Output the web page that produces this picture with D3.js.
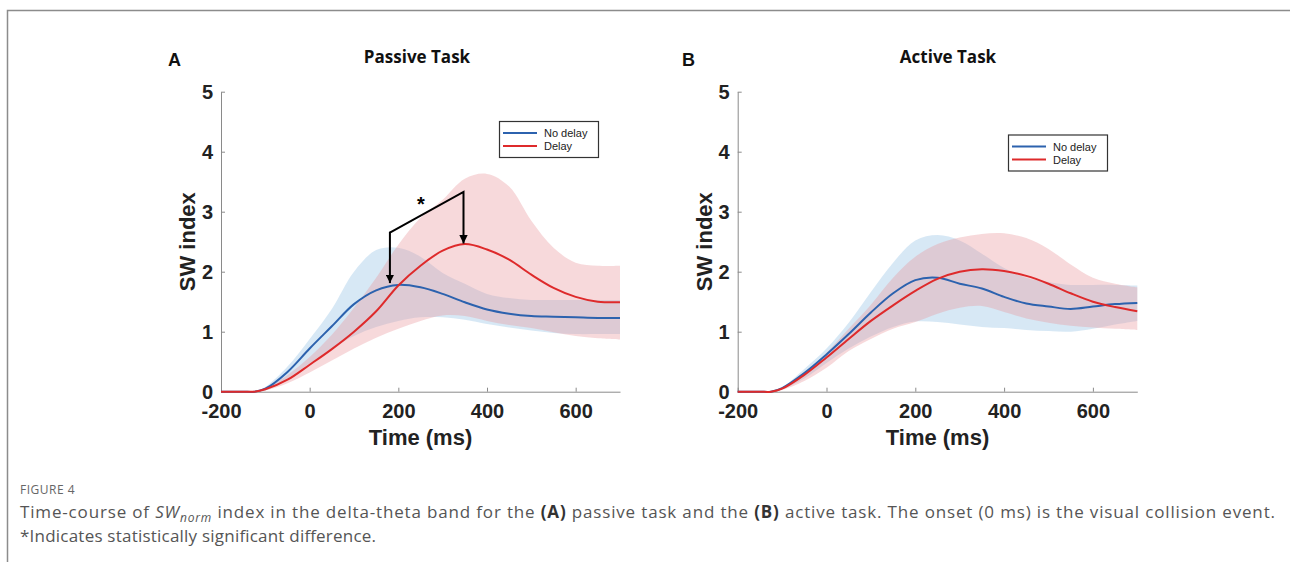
<!DOCTYPE html>
<html>
<head>
<meta charset="utf-8">
<script src="https://cdn.jsdelivr.net/npm/d3@7"></script>
<style>
  body { margin: 0; background: #fff; }
  svg { display: block; }
  .tick text { font-family: "Liberation Sans", Arial, sans-serif; font-weight: bold; font-size: 20px; fill: #222; }
  .axis path, .axis line { stroke: #8a8a8a; stroke-width: 1; }
</style>
</head>
<body>
<div id="chart"></div>
<script>
// time points (ms)
const times = [-200, -150, -125, -100, -50, 0, 50, 100, 150, 200, 250, 300, 350, 400, 450, 500, 550, 600, 650, 700];

// passive task
const passiveNoDelay   = [0, 0, 0, 0.05, 0.33, 0.72, 1.09, 1.46, 1.69, 1.78, 1.74, 1.63, 1.49, 1.37, 1.30, 1.26, 1.25, 1.24, 1.23, 1.23];
const passiveNoDelayHi = [0, 0, 0, 0.08, 0.42, 0.88, 1.38, 2.00, 2.36, 2.40, 2.25, 1.98, 1.80, 1.63, 1.56, 1.53, 1.53, 1.53, 1.53, 1.53];
const passiveNoDelayLo = [0, 0, 0, 0.02, 0.22, 0.47, 0.72, 0.93, 1.08, 1.18, 1.24, 1.24, 1.20, 1.13, 1.07, 1.02, 0.98, 0.96, 0.96, 0.96];
const passiveDelay     = [0, 0, 0, 0.04, 0.20, 0.45, 0.71, 1.00, 1.34, 1.77, 2.10, 2.35, 2.46, 2.37, 2.20, 1.95, 1.73, 1.58, 1.50, 1.49];
const passiveDelayHi   = [0, 0, 0, 0.06, 0.28, 0.58, 0.95, 1.40, 1.90, 2.45, 2.90, 3.20, 3.55, 3.63, 3.42, 2.85, 2.40, 2.15, 2.10, 2.10];
const passiveDelayLo   = [0, 0, 0, 0.02, 0.14, 0.32, 0.52, 0.72, 0.90, 1.05, 1.18, 1.27, 1.26, 1.18, 1.11, 1.06, 0.99, 0.93, 0.89, 0.87];

// active task
const activeNoDelay   = [0, 0, 0, 0.06, 0.31, 0.62, 0.96, 1.32, 1.64, 1.86, 1.90, 1.80, 1.72, 1.58, 1.47, 1.42, 1.38, 1.42, 1.46, 1.48];
const activeNoDelayHi = [0, 0, 0, 0.07, 0.38, 0.72, 1.15, 1.66, 2.15, 2.52, 2.61, 2.52, 2.30, 2.06, 1.90, 1.83, 1.78, 1.78, 1.78, 1.77];
const activeNoDelayLo = [0, 0, 0, 0.04, 0.22, 0.48, 0.72, 0.92, 1.08, 1.17, 1.16, 1.12, 1.08, 1.06, 1.03, 1.01, 1.00, 1.05, 1.12, 1.18];
const activeDelay     = [0, 0, 0, 0.05, 0.28, 0.57, 0.88, 1.18, 1.44, 1.68, 1.88, 2.00, 2.04, 2.01, 1.93, 1.80, 1.64, 1.50, 1.41, 1.34];
const activeDelayHi   = [0, 0, 0, 0.06, 0.30, 0.65, 1.05, 1.45, 1.90, 2.25, 2.46, 2.57, 2.63, 2.64, 2.56, 2.38, 2.12, 1.90, 1.80, 1.74];
const activeDelayLo   = [0, 0, 0, 0.03, 0.18, 0.40, 0.68, 0.88, 1.05, 1.16, 1.30, 1.40, 1.43, 1.33, 1.22, 1.15, 1.10, 1.07, 1.05, 1.03];

const xTicks = [-200, 0, 200, 400, 600];
const yTicks = [0, 1, 2, 3, 4, 5];
const seriesNames = ["No delay", "Delay"];

// significance bracket: [time, top value, arrow tip value]
const bracketLeft = [181, 2.65, 1.81];
const bracketRight = [347, 3.33, 2.47];
const starPos = [251, 3.16];

const width = 1290, height = 562;
const blue = "#2c62ae", red = "#de2a2b";
const curve = d3.curveCatmullRom.alpha(0.5);

const svg = d3.select("#chart").append("svg")
    .attr("width", width)
    .attr("height", height);

// page frame
svg.append("path")
    .attr("d", "M7.5,562 V10.5 H1290")
    .attr("fill", "none")
    .attr("stroke", "#8c8c8c")
    .attr("stroke-width", 1.5);

svg.append("defs").append("marker")
    .attr("id", "arrow")
    .attr("viewBox", "0 0 10 10")
    .attr("refX", 10).attr("refY", 5)
    .attr("markerWidth", 4.2).attr("markerHeight", 4.2)
    .attr("markerUnits", "strokeWidth")
    .attr("orient", "auto")
    .append("path")
    .attr("d", "M0,0 L10,5 L0,10 Z")
    .attr("fill", "#000");

function drawPanel(p) {
    const x = d3.scaleLinear().domain([-200, 700]).range([p.left, p.right]);
    const y = d3.scaleLinear().domain([0, 5]).range([391.7, 91.7]);
    const g = svg.append("g");

    const rows = times.map((t, i) => ({
        t: t,
        nd: p.nd[i], ndHi: p.ndHi[i], ndLo: p.ndLo[i],
        d: p.d[i], dHi: p.dHi[i], dLo: p.dLo[i]
    }));

    const area = (hi, lo) => d3.area()
        .x(d => x(d.t)).y0(d => y(Math.max(0, d[lo]))).y1(d => y(d[hi]))
        .curve(curve);
    const line = key => d3.line()
        .x(d => x(d.t)).y(d => y(d[key]))
        .curve(curve);

    g.append("path").datum(rows)
        .attr("d", area("ndHi", "ndLo"))
        .attr("fill", "rgb(160,200,232)")
        .attr("fill-opacity", 0.42);
    g.append("path").datum(rows)
        .attr("d", area("dHi", "dLo"))
        .attr("fill", "rgb(232,150,155)")
        .attr("fill-opacity", 0.36);

    // axes
    g.append("g").attr("class", "axis")
        .attr("transform", "translate(0,391.7)")
        .call(d3.axisBottom(x).tickValues(xTicks).tickFormat(d => String(d))
            .tickSizeInner(-4).tickSizeOuter(0).tickPadding(12));
    g.append("g").attr("class", "axis")
        .attr("transform", `translate(${p.left},0)`)
        .call(d3.axisLeft(y).tickValues(yTicks).tickFormat(d => String(d))
            .tickSizeInner(-4).tickSizeOuter(0).tickPadding(8));

    g.append("path").datum(rows)
        .attr("d", line("nd"))
        .attr("fill", "none").attr("stroke", blue).attr("stroke-width", 2);
    g.append("path").datum(rows)
        .attr("d", line("d"))
        .attr("fill", "none").attr("stroke", red).attr("stroke-width", 2);

    // axis labels
    g.append("text")
        .attr("x", (p.left + p.right) / 2).attr("y", 445)
        .attr("text-anchor", "middle")
        .style("font-family", "'Liberation Sans', Arial, sans-serif")
        .style("font-weight", "bold").style("font-size", "22px").style("fill", "#222")
        .text("Time (ms)");
    g.append("text")
        .attr("transform", `translate(${p.left - 26},241.7) rotate(-90)`)
        .attr("text-anchor", "middle")
        .style("font-family", "'Liberation Sans', Arial, sans-serif")
        .style("font-weight", "bold").style("font-size", "22px").style("fill", "#222")
        .text("SW index");

    // titles
    g.append("text")
        .attr("x", p.titleX).attr("y", 63)
        .attr("text-anchor", "middle")
        .style("font-family", "'Open Sans', sans-serif")
        .style("font-weight", "bold").style("font-size", "17px").style("fill", "#111")
        .text(p.title);
    g.append("text")
        .attr("x", p.letterX).attr("y", 66)
        .style("font-family", "'Liberation Sans', Arial, sans-serif")
        .style("font-weight", "bold").style("font-size", "18px").style("fill", "#111")
        .text(p.letter);

    // legend
    const lg = g.append("g").attr("transform", `translate(${p.legX},${p.legY})`);
    lg.append("rect")
        .attr("x", 0.5).attr("y", 0.5).attr("width", 99).attr("height", 36)
        .attr("fill", "#fff").attr("stroke", "#333").attr("stroke-width", 1.2);
    seriesNames.forEach((name, i) => {
        const ly = 12 + i * 13;
        lg.append("line")
            .attr("x1", 4).attr("x2", 38).attr("y1", ly).attr("y2", ly)
            .attr("stroke", i === 0 ? blue : red).attr("stroke-width", 1.8);
        lg.append("text")
            .attr("x", 45).attr("y", ly + 4)
            .style("font-family", "'Liberation Sans', Arial, sans-serif")
            .style("font-size", "11px").style("fill", "#222")
            .text(name);
    });

    return { x, y, g };
}

const A = drawPanel({
    left: 221, right: 620, title: "Passive Task", titleX: 417, letter: "A", letterX: 168,
    legX: 499, legY: 121,
    nd: passiveNoDelay, ndHi: passiveNoDelayHi, ndLo: passiveNoDelayLo,
    d: passiveDelay, dHi: passiveDelayHi, dLo: passiveDelayLo
});

drawPanel({
    left: 737.7, right: 1137.3, title: "Active Task", titleX: 948, letter: "B", letterX: 682,
    legX: 1008, legY: 134.5,
    nd: activeNoDelay, ndHi: activeNoDelayHi, ndLo: activeNoDelayLo,
    d: activeDelay, dHi: activeDelayHi, dLo: activeDelayLo
});

// significance annotation on panel A
const bx1 = A.x(bracketLeft[0]), bx2 = A.x(bracketRight[0]);
A.g.append("path")
    .attr("d", `M${bx1},${A.y(bracketLeft[1])} L${bx2},${A.y(bracketRight[1])} L${bx2},${A.y(bracketRight[2])}`)
    .attr("fill", "none").attr("stroke", "#000").attr("stroke-width", 2)
    .attr("marker-end", "url(#arrow)");
A.g.append("path")
    .attr("d", `M${bx1},${A.y(bracketLeft[1]) - 1} L${bx1},${A.y(bracketLeft[2])}`)
    .attr("fill", "none").attr("stroke", "#000").attr("stroke-width", 2)
    .attr("marker-end", "url(#arrow)");
A.g.append("text")
    .attr("x", A.x(starPos[0])).attr("y", A.y(starPos[1]) + 9)
    .attr("text-anchor", "middle")
    .style("font-family", "'Liberation Sans', Arial, sans-serif")
    .style("font-weight", "bold").style("font-size", "20px")
    .text("*");

// caption
const cap = svg.append("g").style("font-family", "'Open Sans', sans-serif").style("fill", "#555");
cap.append("text")
    .attr("x", 20).attr("y", 494)
    .style("font-size", "12px").style("fill", "#666").style("letter-spacing", "0.5px")
    .text("FIGURE 4");
const l1 = cap.append("text").attr("x", 20).attr("y", 518).style("font-size", "17px")
    .attr("textLength", 1255).attr("lengthAdjust", "spacing");
l1.append("tspan").text("Time-course of ");
l1.append("tspan").style("font-style", "italic").text("SW");
l1.append("tspan").style("font-style", "italic").style("font-size", "12px").attr("dy", 4).text("norm");
l1.append("tspan").attr("dy", -4).text(" index in the delta-theta band for the ");
l1.append("tspan").style("font-weight", "bold").style("fill", "#333").text("(A)");
l1.append("tspan").text(" passive task and the ");
l1.append("tspan").style("font-weight", "bold").style("fill", "#333").text("(B)");
l1.append("tspan").text(" active task. The onset (0 ms) is the visual collision event.");
cap.append("text").attr("x", 20).attr("y", 542).style("font-size", "17px")
    .attr("textLength", 356).attr("lengthAdjust", "spacing")
    .text("*Indicates statistically significant difference.");
</script>
</body>
</html>
